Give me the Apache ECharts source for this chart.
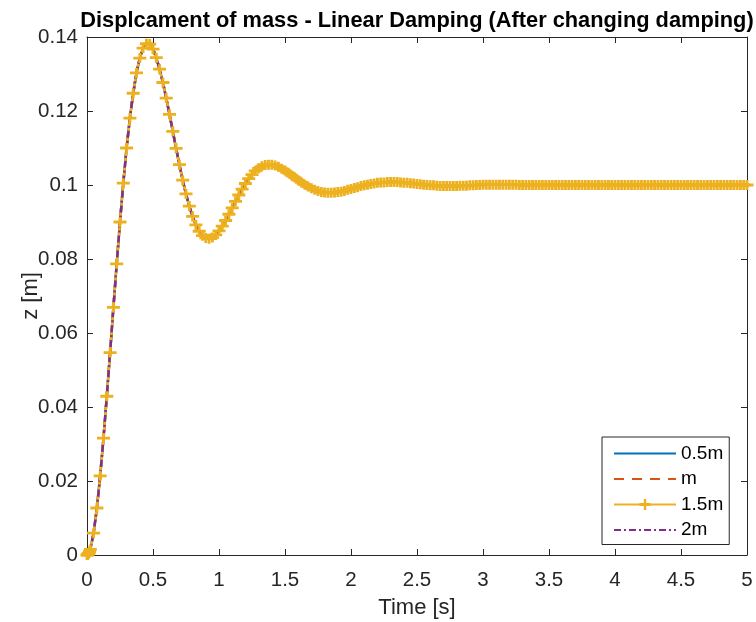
<!DOCTYPE html>
<html>
<head>
<meta charset="utf-8">
<script src="https://cdn.jsdelivr.net/npm/echarts@6/dist/echarts.min.js"></script>
<style>
html,body{margin:0;padding:0;background:#fff;}
#chart{width:756px;height:622px;}
</style>
</head>
<body>
<div id="chart"></div>
<script>
// ---- data ----
const titleText = 'Displcament of mass - Linear Damping (After changing damping)';
const xLabel = 'Time [s]';
const yLabel = 'z [m]';
const seriesNames = ['0.5m', 'm', '1.5m', '2m'];

const time = [
  0, 0.004, 0.008, 0.012, 0.016, 0.02,
  0.025, 0.05, 0.075, 0.1, 0.125, 0.15, 0.175, 0.2, 0.225, 0.25,
  0.275, 0.3, 0.325, 0.35, 0.375, 0.4, 0.425, 0.45, 0.475, 0.5,
  0.525, 0.55, 0.575, 0.6, 0.625, 0.65, 0.675, 0.7, 0.725, 0.75,
  0.775, 0.8, 0.825, 0.85, 0.875, 0.9, 0.925, 0.95, 0.975, 1.0,
  1.025, 1.05, 1.075, 1.1, 1.125, 1.15, 1.175, 1.2, 1.225, 1.25,
  1.275, 1.3, 1.325, 1.35, 1.375, 1.4, 1.425, 1.45, 1.475, 1.5,
  1.525, 1.55, 1.575, 1.6, 1.625, 1.65, 1.675, 1.7, 1.725, 1.75,
  1.775, 1.8, 1.825, 1.85, 1.875, 1.9, 1.925, 1.95, 1.975, 2.0,
  2.025, 2.05, 2.075, 2.1, 2.125, 2.15, 2.175, 2.2, 2.225, 2.25,
  2.275, 2.3, 2.325, 2.35, 2.375, 2.4, 2.425, 2.45, 2.475, 2.5,
  2.525, 2.55, 2.575, 2.6, 2.625, 2.65, 2.675, 2.7, 2.725, 2.75,
  2.775, 2.8, 2.825, 2.85, 2.875, 2.9, 2.925, 2.95, 2.975, 3.0,
  3.025, 3.05, 3.075, 3.1, 3.125, 3.15, 3.175, 3.2, 3.225, 3.25,
  3.275, 3.3, 3.325, 3.35, 3.375, 3.4, 3.425, 3.45, 3.475, 3.5,
  3.525, 3.55, 3.575, 3.6, 3.625, 3.65, 3.675, 3.7, 3.725, 3.75,
  3.775, 3.8, 3.825, 3.85, 3.875, 3.9, 3.925, 3.95, 3.975, 4.0,
  4.025, 4.05, 4.075, 4.1, 4.125, 4.15, 4.175, 4.2, 4.225, 4.25,
  4.275, 4.3, 4.325, 4.35, 4.375, 4.4, 4.425, 4.45, 4.475, 4.5,
  4.525, 4.55, 4.575, 4.6, 4.625, 4.65, 4.675, 4.7, 4.725, 4.75,
  4.775, 4.8, 4.825, 4.85, 4.875, 4.9, 4.925, 4.95, 4.975, 5.0
];

// All four responses lie on top of each other in the reference.
const displacement = [
  0, 0, 0.0002, 0.0004, 0.0006, 0.0010,
  0.0015, 0.0059, 0.0127, 0.0214, 0.0316, 0.0429, 0.0547, 0.0669, 0.0787, 0.0900,
  0.1005, 0.1100, 0.1181, 0.1248, 0.1303, 0.1343, 0.1370, 0.1382, 0.1381, 0.1367,
  0.1344, 0.1313, 0.1277, 0.1235, 0.1191, 0.1145, 0.1099, 0.1055, 0.1013, 0.0976,
  0.0943, 0.0915, 0.0892, 0.0875, 0.0863, 0.0857, 0.0855, 0.0858, 0.0865, 0.0876,
  0.0889, 0.0904, 0.0921, 0.0938, 0.0956, 0.0973, 0.0989, 0.1004, 0.1017, 0.1028,
  0.1038, 0.1045, 0.1051, 0.1054, 0.1055, 0.1055, 0.1053, 0.1049, 0.1044, 0.1039,
  0.1033, 0.1026, 0.1020, 0.1013, 0.1007, 0.1001, 0.0996, 0.0991, 0.0987, 0.0984,
  0.0981, 0.0980, 0.0979, 0.0979, 0.0980, 0.0981, 0.0982, 0.0984, 0.0987, 0.0989,
  0.0992, 0.0994, 0.0997, 0.0999, 0.1001, 0.1003, 0.1004, 0.1006, 0.1007, 0.1007,
  0.1008, 0.1008, 0.1008, 0.1008, 0.1007, 0.1006, 0.1006, 0.1005, 0.1004, 0.1003,
  0.1002, 0.1001, 0.1000, 0.0999, 0.0999, 0.0998, 0.0997, 0.0997, 0.0997, 0.0997,
  0.0997, 0.0997, 0.0998, 0.0998, 0.0998, 0.0999, 0.0999, 0.1000, 0.1000, 0.1001,
  0.1001, 0.1001, 0.1001, 0.1001, 0.1001, 0.1001, 0.1001, 0.1001, 0.1001, 0.1001,
  0.1, 0.1, 0.1, 0.1, 0.1, 0.1, 0.1, 0.1, 0.1, 0.1,
  0.1, 0.1, 0.1, 0.1, 0.1, 0.1, 0.1, 0.1, 0.1, 0.1,
  0.1, 0.1, 0.1, 0.1, 0.1, 0.1, 0.1, 0.1, 0.1, 0.1,
  0.1, 0.1, 0.1, 0.1, 0.1, 0.1, 0.1, 0.1, 0.1, 0.1,
  0.1, 0.1, 0.1, 0.1, 0.1, 0.1, 0.1, 0.1, 0.1, 0.1,
  0.1, 0.1, 0.1, 0.1, 0.1, 0.1, 0.1, 0.1, 0.1, 0.1,
  0.1, 0.1, 0.1, 0.1, 0.1, 0.1, 0.1, 0.1, 0.1, 0.1
];
const z_05m = displacement;
const z_1m = displacement;
const z_15m = displacement;
const z_2m = displacement;

// ---- chart ----
const FONT = '"Liberation Sans", Arial, Helvetica, sans-serif';
const AX = '#262626';
const pairs = arr => time.map((t, i) => [t, arr[i]]);
const plusPath = 'path://M0,3.6H10V6.4H0Z M3.9,0H6.1V10H3.9Z';

const axisCommon = {
  type: 'value',
  splitLine: { show: false },
  axisLine: { show: true, onZero: false, lineStyle: { color: AX, width: 1 } },
  axisTick: { show: true, inside: true, length: 6, lineStyle: { color: AX, width: 1 } }
};

const chart = echarts.init(document.getElementById('chart'), null, { renderer: 'canvas' });
chart.setOption({
  animation: false,
  backgroundColor: '#fff',
  title: {
    text: titleText,
    left: 412, textAlign: 'center', top: 5,
    textStyle: { fontFamily: FONT, fontSize: 21.8, fontWeight: 'bold', color: '#000' }
  },
  grid: { left: 87, top: 37, width: 660, height: 518, containLabel: false, outerBoundsMode: 'none' },
  legend: {
    orient: 'vertical',
    left: 602, top: 437,
    itemWidth: 62, itemHeight: 14, itemGap: 6.5,
    padding: [7, 6, 5, 11],
    borderColor: AX, borderWidth: 1, backgroundColor: '#fff',
    textStyle: { fontFamily: FONT, fontSize: 19, color: '#000', lineHeight: 19 },
    data: [
      { name: seriesNames[0], itemStyle: { opacity: 0 } },
      { name: seriesNames[1], itemStyle: { opacity: 0 } },
      { name: seriesNames[2] },
      { name: seriesNames[3], itemStyle: { opacity: 0 } }
    ]
  },
  xAxis: [
    Object.assign({}, axisCommon, {
      min: 0, max: 5, interval: 0.5, position: 'bottom',
      name: xLabel, nameLocation: 'middle', nameGap: 42, nameMoveOverlap: false,
      nameTextStyle: { fontFamily: FONT, fontSize: 22, color: AX },
      axisLabel: { fontFamily: FONT, fontSize: 20.5, color: AX, margin: 15 }
    }),
    Object.assign({}, axisCommon, {
      min: 0, max: 5, interval: 0.5, position: 'top',
      axisLabel: { show: false }
    })
  ],
  yAxis: [
    Object.assign({}, axisCommon, {
      min: 0, max: 0.14, interval: 0.02, position: 'left',
      name: yLabel, nameLocation: 'middle', nameGap: 45, nameMoveOverlap: false,
      nameTextStyle: { fontFamily: FONT, fontSize: 22, color: AX },
      axisLabel: { fontFamily: FONT, fontSize: 20.5, color: AX, margin: 9 }
    }),
    Object.assign({}, axisCommon, {
      min: 0, max: 0.14, interval: 0.02, position: 'right',
      axisLabel: { show: false }
    })
  ],
  series: [
    {
      name: seriesNames[0], type: 'line', data: pairs(z_05m),
      xAxisIndex: 0, yAxisIndex: 0,
      symbol: 'none', color: '#0072BD',
      lineStyle: { color: '#0072BD', width: 2.5, type: 'solid' },
      emphasis: { disabled: true }
    },
    {
      name: seriesNames[1], type: 'line', data: pairs(z_1m),
      symbol: 'none', color: '#D95319',
      lineStyle: { color: '#D95319', width: 2.5, type: [10, 8] },
      emphasis: { disabled: true }
    },
    {
      name: seriesNames[2], type: 'line', data: pairs(z_15m),
      symbol: plusPath, symbolSize: [13, 10], showSymbol: true, symbolKeepAspect: false,
      color: '#EDB120',
      itemStyle: { color: '#EDB120', borderWidth: 0 },
      lineStyle: { color: '#EDB120', width: 2.5, type: 'solid' },
      emphasis: { disabled: true }
    },
    {
      name: seriesNames[3], type: 'line', data: pairs(z_2m),
      symbol: 'none', color: '#7E2F8E',
      lineStyle: { color: '#7E2F8E', width: 2.5, type: [7, 3, 2, 3] },
      emphasis: { disabled: true }
    }
  ]
});
</script>
</body>
</html>
